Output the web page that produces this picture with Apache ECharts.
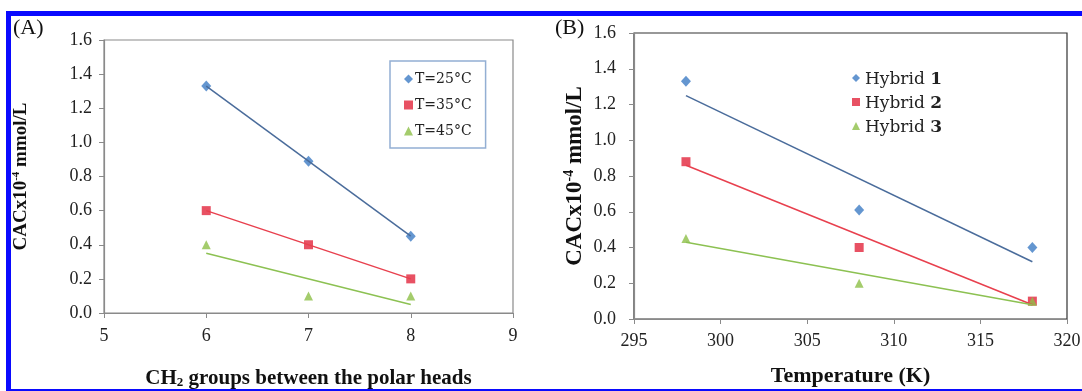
<!DOCTYPE html>
<html>
<head>
<meta charset="utf-8">
<script src="https://cdn.jsdelivr.net/npm/echarts@6/dist/echarts.min.js"></script>
<style>
  html, body { margin: 0; padding: 0; background: #fff; }
  #chart { position: absolute; left: 0; top: 0; width: 1082px; height: 391px; }
  #frame { position: absolute; left: 6px; top: 11px; width: 1076px; height: 380px;
           border-top: 5px solid #0a0aff; border-left: 5px solid #0a0aff; border-bottom: 2px solid #0a0aff;
           box-sizing: border-box; pointer-events: none; }
</style>
</head>
<body>
<div id="chart"></div>
<div id="frame"></div>
<script>
// ---- Panel A data ----
const chainLengths = [6, 7, 8];
const cac25 = [1.33, 0.89, 0.45];
const cac35 = [0.60, 0.40, 0.20];
const cac45 = [0.40, 0.10, 0.10];
const trend25 = [1.33, 0.45];
const trend35 = [0.60, 0.20];
const trend45 = [0.35, 0.05];
const namesA = ['T=25°C', 'T=35°C', 'T=45°C'];

// ---- Panel B data ----
const temperatures = [298, 308, 318];
const hybrid1 = [1.33, 0.61, 0.40];
const hybrid2 = [0.88, 0.40, 0.10];
const hybrid3 = [0.45, 0.20, 0.10];
const trendH1 = [1.25, 0.32];
const trendH2 = [0.86, 0.08];
const trendH3 = [0.43, 0.08];
const namesB = ['Hybrid 1', 'Hybrid 2', 'Hybrid 3'];

const blue = '#3d7cc4', red = '#e2263c', green = '#8dbf47';
const blueLine = '#4a6c9b', redLine = '#e8404e', greenLine = '#8cc152';
const serif = '"Liberation Serif", "Times New Roman", serif';
const serif2 = '"DejaVu Serif", serif';

function pts(xs, ys) { return xs.map((x, i) => [x, ys[i]]); }
function ends(xs, t) { return [[xs[0], t[0]], [xs[xs.length - 1], t[1]]]; }

const chart = echarts.init(document.getElementById('chart'), null, { renderer: 'canvas' });

const yTitleRich = (size) => ({
  b: { fontFamily: serif, fontWeight: 'bold', fontSize: size, color: '#111' },
  s: { fontFamily: serif, fontWeight: 'bold', fontSize: Math.round(size * 0.6), color: '#111', padding: [0, 0, Math.round(size * 0.55), 0] }
});

const axisLabelStyle = { fontFamily: serif, fontSize: 18, color: '#222' };

const option = {
  animation: false,
  backgroundColor: '#fff',
  graphic: [
    { type: 'text', left: 13, top: 17, style: { text: '(A)', font: '22px ' + serif, fill: '#111' } },
    { type: 'text', left: 555, top: 17, style: { text: '(B)', font: '22px ' + serif, fill: '#111' } }
  ],
  grid: [
    { left: 104, right: 569, top: 40, bottom: 78, show: true, borderColor: '#8a8a8a', borderWidth: 1.2, outerBoundsMode: 'none', containLabel: false },
    { left: 634, right: 15, top: 33, bottom: 72, show: true, borderColor: '#333', borderWidth: 1.2, outerBoundsMode: 'none', containLabel: false }
  ],
  xAxis: [
    {
      gridIndex: 0, type: 'value', min: 5, max: 9, interval: 1,
      splitLine: { show: false },
      axisLine: { lineStyle: { color: '#8a8a8a', width: 1.2 } },
      axisTick: { inside: false, length: 5, lineStyle: { color: '#8a8a8a' } },
      axisLabel: Object.assign({ margin: 14 }, axisLabelStyle),
      name: '{b|CH}{sub|2}{b| groups between the polar heads}',
      nameLocation: 'middle', nameGap: 55,
      nameTextStyle: {
        rich: {
          b: { fontFamily: serif, fontWeight: 'bold', fontSize: 21, color: '#111' },
          sub: { fontFamily: serif, fontWeight: 'bold', fontSize: 13, color: '#111', padding: [8, 0, 0, 0] }
        }
      }
    },
    {
      gridIndex: 1, type: 'value', min: 295, max: 320, interval: 5,
      splitLine: { show: false },
      axisLine: { lineStyle: { color: '#8a8a8a', width: 1.2 } },
      axisTick: { inside: false, length: 5, lineStyle: { color: '#8a8a8a' } },
      axisLabel: Object.assign({ margin: 13 }, axisLabelStyle),
      name: 'Temperature (K)',
      nameLocation: 'middle', nameGap: 46,
      nameTextStyle: { fontFamily: serif, fontWeight: 'bold', fontSize: 22, color: '#111' }
    }
  ],
  yAxis: [
    {
      gridIndex: 0, type: 'value', min: 0, max: 1.6, interval: 0.2,
      splitLine: { show: false },
      axisLine: { show: true, lineStyle: { color: '#8a8a8a', width: 1.2 } },
      axisTick: { show: true, inside: false, length: 5, lineStyle: { color: '#8a8a8a' } },
      axisLabel: Object.assign({ margin: 12, formatter: v => v.toFixed(1) }, axisLabelStyle),
      name: '{b|CACx10}{s|-4}{b| mmol/L}',
      nameLocation: 'middle', nameGap: 72, nameRotate: 90,
      nameTextStyle: { rich: yTitleRich(19) }
    },
    {
      gridIndex: 1, type: 'value', min: 0, max: 1.6, interval: 0.2,
      splitLine: { show: false },
      axisLine: { show: true, lineStyle: { color: '#8a8a8a', width: 1.2 } },
      axisTick: { show: true, inside: false, length: 5, lineStyle: { color: '#8a8a8a' } },
      axisLabel: Object.assign({ margin: 18, formatter: v => v.toFixed(1) }, axisLabelStyle),
      name: '{b|CACx10}{s|-4}{b| mmol/L}',
      nameLocation: 'middle', nameGap: 45, nameRotate: 90,
      nameTextStyle: { rich: yTitleRich(23) }
    }
  ],
  legend: [
    {
      data: namesA, orient: 'vertical', left: 390, top: 61,
      padding: [9, 14, 8, 14], itemGap: 8, itemWidth: 9, itemHeight: 9,
      borderColor: '#93afd3', borderWidth: 1.5, backgroundColor: '#fff',
      textStyle: { fontFamily: serif2, fontSize: 14, color: '#222', padding: [0, 0, 0, -3], lineHeight: 18 }
    },
    {
      data: namesB, orient: 'vertical', left: 852, top: 71,
      padding: 0, itemGap: 7, itemWidth: 8, itemHeight: 8,
      formatter: n => '{n|Hybrid }{b|' + n.slice(7) + '}',
      textStyle: {
        padding: [3, 0, 0, 0],
        rich: {
          n: { fontFamily: serif2, fontSize: 17, color: '#222', lineHeight: 19 },
          b: { fontFamily: serif2, fontSize: 17, fontWeight: 'bold', color: '#222', lineHeight: 19 }
        }
      }
    }
  ],
  series: [
    // Panel A trend lines
    { type: 'line', xAxisIndex: 0, yAxisIndex: 0, data: ends(chainLengths, trend25), symbol: 'none', lineStyle: { color: blueLine, width: 1.5 }, silent: true },
    { type: 'line', xAxisIndex: 0, yAxisIndex: 0, data: ends(chainLengths, trend35), symbol: 'none', lineStyle: { color: redLine, width: 1.5 }, silent: true },
    { type: 'line', xAxisIndex: 0, yAxisIndex: 0, data: ends(chainLengths, trend45), symbol: 'none', lineStyle: { color: greenLine, width: 1.5 }, silent: true },
    // Panel A points
    { name: namesA[0], type: 'scatter', xAxisIndex: 0, yAxisIndex: 0, data: pts(chainLengths, cac25), symbol: 'diamond', symbolSize: [10, 11], itemStyle: { color: blue } },
    { name: namesA[1], type: 'scatter', xAxisIndex: 0, yAxisIndex: 0, data: pts(chainLengths, cac35), symbol: 'rect', symbolSize: 9, itemStyle: { color: red } },
    { name: namesA[2], type: 'scatter', xAxisIndex: 0, yAxisIndex: 0, data: pts(chainLengths, cac45), symbol: 'triangle', symbolSize: 9, itemStyle: { color: green } },
    // Panel B trend lines
    { type: 'line', xAxisIndex: 1, yAxisIndex: 1, data: ends(temperatures, trendH1), symbol: 'none', lineStyle: { color: blueLine, width: 1.5 }, silent: true },
    { type: 'line', xAxisIndex: 1, yAxisIndex: 1, data: ends(temperatures, trendH2), symbol: 'none', lineStyle: { color: redLine, width: 1.5 }, silent: true },
    { type: 'line', xAxisIndex: 1, yAxisIndex: 1, data: ends(temperatures, trendH3), symbol: 'none', lineStyle: { color: greenLine, width: 1.5 }, silent: true },
    // Panel B points
    { name: namesB[0], type: 'scatter', xAxisIndex: 1, yAxisIndex: 1, data: pts(temperatures, hybrid1), symbol: 'diamond', symbolSize: [10, 11], itemStyle: { color: blue } },
    { name: namesB[1], type: 'scatter', xAxisIndex: 1, yAxisIndex: 1, data: pts(temperatures, hybrid2), symbol: 'rect', symbolSize: 9, itemStyle: { color: red } },
    { name: namesB[2], type: 'scatter', xAxisIndex: 1, yAxisIndex: 1, data: pts(temperatures, hybrid3), symbol: 'triangle', symbolSize: 9, itemStyle: { color: green } }
  ]
};
chart.setOption(option);
</script>
</body>
</html>
